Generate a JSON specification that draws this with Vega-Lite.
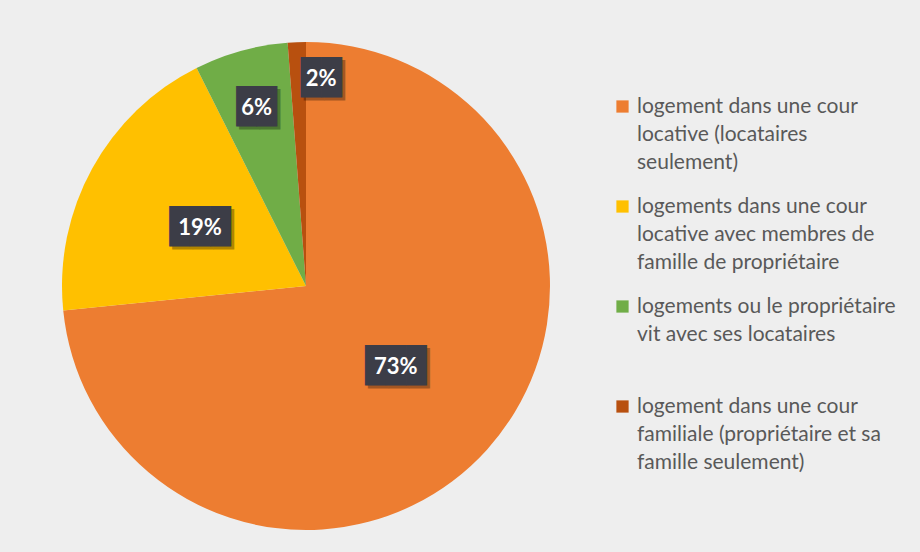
{
  "$schema": "https://vega.github.io/schema/vega-lite/v6.json",
  "width": 602,
  "height": 530,
  "autosize": {"type": "none"},
  "padding": {"left": 5, "top": 21, "right": 313, "bottom": 1},
  "background": "#eeeeee",
  "config": {
    "view": {"stroke": null},
    "style": {"guide-label": {"lineHeight": 28}}
  },
  "data": {
    "values": [
      {"cat": "logement dans une cour\nlocative (locataires\nseulement)", "value": 73.4, "label": "73%", "rank": 1},
      {"cat": "logements dans une cour\nlocative avec membres de\nfamille de propriétaire", "value": 19.2, "label": "19%", "rank": 2},
      {"cat": "logements ou le propriétaire\nvit avec ses locataires\n", "value": 6.2, "label": "6%", "rank": 3},
      {"cat": "logement dans une cour\nfamiliale (propriétaire et sa\nfamille seulement)", "value": 1.2, "label": "2%", "rank": 4}
    ]
  },
  "transform": [
    {"stack": "value", "groupby": [], "sort": [{"field": "rank", "order": "ascending"}], "as": ["v0", "v1"]},
    {"calculate": "(datum.v0 + datum.v1) / 2", "as": "vmid"},
    {"calculate": "length(datum.label) > 2 ? '███' : '██'", "as": "box"}
  ],
  "layer": [
    {
      "mark": {"type": "arc", "outerRadius": 244},
      "encoding": {
        "theta": {"field": "v0", "type": "quantitative", "scale": {"domain": [0, 100], "zero": true}},
        "theta2": {"field": "v1"},
        "color": {
          "field": "cat", "type": "nominal",
          "sort": {"field": "rank"},
          "scale": {"range": ["#ED7D31", "#FFC000", "#70AD47", "#B8500F"]},
          "legend": {
            "title": null,
            "orient": "none",
            "legendX": 607,
            "legendY": 75,
            "symbolType": "square",
            "symbolSize": 150,
            "symbolStrokeWidth": 0,
            "labelFont": "Lato",
            "labelFontSize": 21,
            "labelColor": "#595959",
            "labelLimit": 400,
            "labelOffset": 4,
            "labelBaseline": "middle",
            "rowPadding": 22,
            "labelExpr": "split(datum.label, '\\n')"
          }
        }
      }
    },
    {
      "transform": [{"filter": "datum.rank <= 2"}],
      "layer": [
        {"mark": {"type": "text", "radius": 121, "font": "DejaVu Sans Mono", "fontSize": 34, "color": "#000000", "opacity": 0.3, "dx": 3, "dy": 3, "baseline": "middle"}, "encoding": {"theta": {"field": "vmid", "type": "quantitative"}, "text": {"field": "box"}}},
        {"mark": {"type": "text", "radius": 121, "font": "DejaVu Sans Mono", "fontSize": 34, "color": "#3c3d47", "baseline": "middle"}, "encoding": {"theta": {"field": "vmid", "type": "quantitative"}, "text": {"field": "box"}}},
        {"mark": {"type": "text", "radius": 121, "font": "Lato", "fontWeight": "bold", "fontSize": 22, "color": "#ffffff", "baseline": "middle"}, "encoding": {"theta": {"field": "vmid", "type": "quantitative"}, "text": {"field": "label"}}}
      ]
    },
    {
      "transform": [{"filter": "datum.rank == 3"}],
      "layer": [
        {"mark": {"type": "text", "radius": 185, "font": "DejaVu Sans Mono", "fontSize": 34, "color": "#000000", "opacity": 0.3, "dx": 3, "dy": 3, "baseline": "middle"}, "encoding": {"theta": {"field": "vmid", "type": "quantitative"}, "text": {"field": "box"}}},
        {"mark": {"type": "text", "radius": 185, "font": "DejaVu Sans Mono", "fontSize": 34, "color": "#3c3d47", "baseline": "middle"}, "encoding": {"theta": {"field": "vmid", "type": "quantitative"}, "text": {"field": "box"}}},
        {"mark": {"type": "text", "radius": 185, "font": "Lato", "fontWeight": "bold", "fontSize": 22, "color": "#ffffff", "baseline": "middle"}, "encoding": {"theta": {"field": "vmid", "type": "quantitative"}, "text": {"field": "label"}}}
      ]
    },
    {
      "transform": [{"filter": "datum.rank == 4"}],
      "layer": [
        {"mark": {"type": "text", "radius": 207, "font": "DejaVu Sans Mono", "fontSize": 34, "color": "#000000", "opacity": 0.3, "dx": 26, "dy": 3, "baseline": "middle"}, "encoding": {"theta": {"field": "vmid", "type": "quantitative"}, "text": {"field": "box"}}},
        {"mark": {"type": "text", "radius": 207, "font": "DejaVu Sans Mono", "fontSize": 34, "color": "#3c3d47", "dx": 23, "baseline": "middle"}, "encoding": {"theta": {"field": "vmid", "type": "quantitative"}, "text": {"field": "box"}}},
        {"mark": {"type": "text", "radius": 207, "font": "Lato", "fontWeight": "bold", "fontSize": 22, "color": "#ffffff", "dx": 23, "baseline": "middle"}, "encoding": {"theta": {"field": "vmid", "type": "quantitative"}, "text": {"field": "label"}}}
      ]
    }
  ]
}
